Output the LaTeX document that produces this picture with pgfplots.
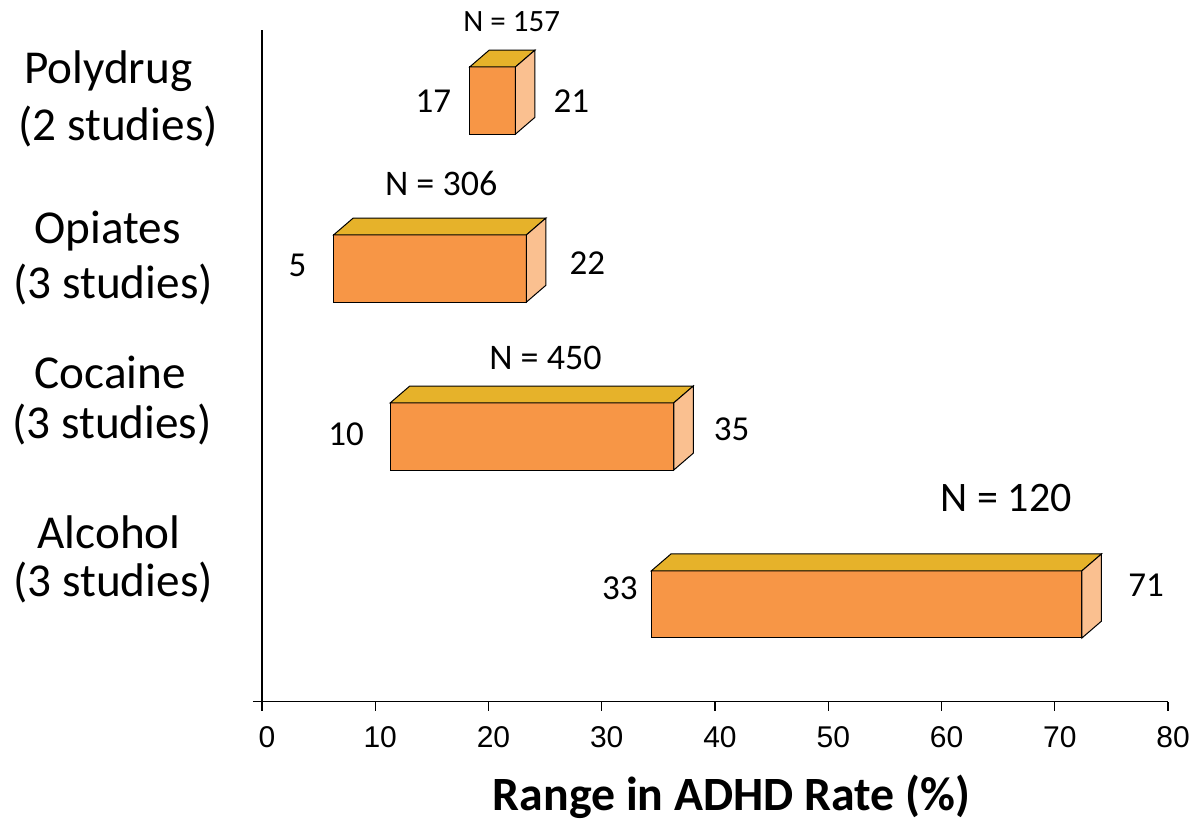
\documentclass[border=0pt]{standalone}
\usepackage{pgfplots}
\pgfplotsset{compat=1.18}
\usepackage{fontspec}
\setmainfont{Carlito}
\newfontfamily\arial{Liberation Sans}
\definecolor{orfront}{HTML}{F79646}
\definecolor{ortop}{HTML}{E6B22A}
\definecolor{orside}{HTML}{FAC090}
\begin{document}
\begin{tikzpicture}
\begin{axis}[
  scale only axis, width=453pt, height=335.85pt,
  xmin=0, xmax=80, ymin=0, ymax=4,
  axis x line=bottom, axis y line=left,
  axis line style={-, line width=0.7pt, black},
  xtick={0,10,...,80}, ytick={0}, yticklabels={},
  tick align=outside, major tick length=4.5pt,
  tick style={black, line width=0.7pt},
  /pgf/number format/assume math mode=true,
  xticklabel style={font=\arial\fontsize{15}{18}\selectfont, inner sep=0pt, anchor=center, yshift=-13pt, xshift=2.5pt},
  clip=false,
  every node/.style={inner sep=0pt},
]
% invisible frame setting the picture size
\path (axis cs:-23.13,-0.7105) rectangle (axis cs:82.47,4.1787);

% Polydrug
\addplot[fill=orfront, draw=black, line width=0.5pt] coordinates {(18.34,3.38) (22.38,3.38) (22.38,3.78) (18.34,3.78)} -- cycle;
\addplot[fill=ortop, draw=black, line width=0.5pt] coordinates {(18.34,3.78) (22.38,3.78) (24.10,3.88) (20.06,3.88)} -- cycle;
\addplot[fill=orside, draw=black, line width=0.5pt] coordinates {(22.38,3.38) (24.10,3.48) (24.10,3.88) (22.38,3.78)} -- cycle;
% Opiates
\addplot[fill=orfront, draw=black, line width=0.5pt] coordinates {(6.33,2.38) (23.35,2.38) (23.35,2.78) (6.33,2.78)} -- cycle;
\addplot[fill=ortop, draw=black, line width=0.5pt] coordinates {(6.33,2.78) (23.35,2.78) (25.07,2.88) (8.05,2.88)} -- cycle;
\addplot[fill=orside, draw=black, line width=0.5pt] coordinates {(23.35,2.38) (25.07,2.48) (25.07,2.88) (23.35,2.78)} -- cycle;
% Cocaine
\addplot[fill=orfront, draw=black, line width=0.5pt] coordinates {(11.33,1.38) (36.36,1.38) (36.36,1.78) (11.33,1.78)} -- cycle;
\addplot[fill=ortop, draw=black, line width=0.5pt] coordinates {(11.33,1.78) (36.36,1.78) (38.08,1.88) (13.05,1.88)} -- cycle;
\addplot[fill=orside, draw=black, line width=0.5pt] coordinates {(36.36,1.38) (38.08,1.48) (38.08,1.88) (36.36,1.78)} -- cycle;
% Alcohol
\addplot[fill=orfront, draw=black, line width=0.5pt] coordinates {(34.39,0.38) (72.40,0.38) (72.40,0.78) (34.39,0.78)} -- cycle;
\addplot[fill=ortop, draw=black, line width=0.5pt] coordinates {(34.39,0.78) (72.40,0.78) (74.12,0.88) (36.11,0.88)} -- cycle;
\addplot[fill=orside, draw=black, line width=0.5pt] coordinates {(72.40,0.38) (74.12,0.48) (74.12,0.88) (72.40,0.78)} -- cycle;

% value labels
\begin{scope}[font=\fontsize{17.5}{20}\selectfont]
\node at (axis cs:15.13,3.574) {17};
\node at (axis cs:27.32,3.574) {21};
\node at (axis cs:3.14,2.601) {5};
\node at (axis cs:28.74,2.613) {22};
\node at (axis cs:7.42,1.590) {10};
\node at (axis cs:41.46,1.624) {35};
\node at (axis cs:31.61,0.677) {33};
\node at (axis cs:78.07,0.696) {71};
\end{scope}
\node[font=\fontsize{15.5}{18}\selectfont] at (axis cs:22.05,4.050) {N = 157};
\node[font=\fontsize{18}{21}\selectfont] at (axis cs:15.82,3.089) {N = 306};
\node[font=\fontsize{18}{21}\selectfont] at (axis cs:25.03,2.045) {N = 450};
\node[font=\fontsize{21}{25}\selectfont] at (axis cs:65.72,1.213) {N = 120};

% category labels
\begin{scope}[font=\fontsize{23.6}{28}\selectfont]
\node[anchor=base] at (axis cs:-13.58,3.683) {Polydrug};
\node[anchor=base] at (axis cs:-12.69,3.345) {(2 studies)};
\node[anchor=base] at (axis cs:-13.62,2.730) {Opiates};
\node[anchor=base] at (axis cs:-13.14,2.403) {(3 studies)};
\node[anchor=base] at (axis cs:-13.40,1.867) {Cocaine};
\node[anchor=base] at (axis cs:-13.23,1.569) {(3 studies)};
\node[anchor=base] at (axis cs:-13.49,0.914) {Alcohol};
\node[anchor=base] at (axis cs:-13.14,0.625) {(3 studies)};
\end{scope}

% axis title
\node[anchor=base, font=\bfseries\fontsize{23.9}{28}\selectfont] at (axis cs:41.46,-0.645) {Range in ADHD Rate (\%)};
\end{axis}
\end{tikzpicture}
\end{document}
